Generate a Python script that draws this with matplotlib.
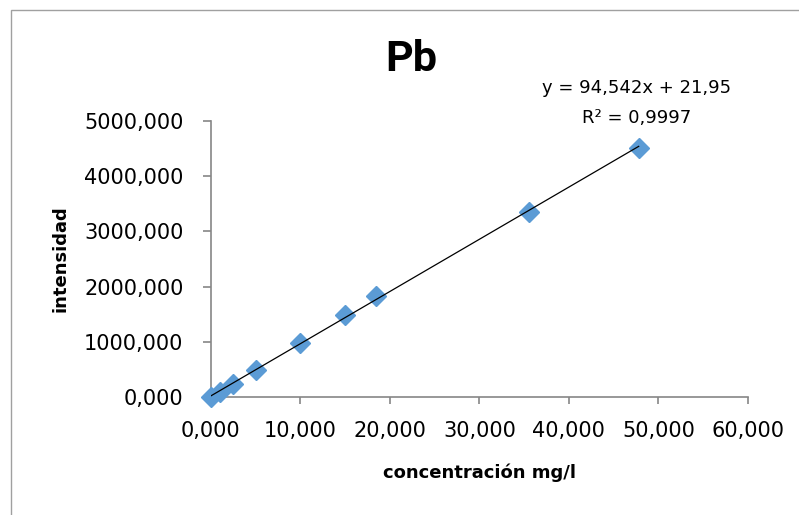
import matplotlib.pyplot as plt
from matplotlib.ticker import FuncFormatter, MultipleLocator
from matplotlib.patches import Rectangle
import numpy as np

# Calibration data for Pb
conc = [0.0, 1.0, 2.5, 5.0, 10.0, 15.0, 18.5, 35.5, 47.8]
intens = [5, 100, 245, 490, 985, 1480, 1835, 3360, 4515]
slope, intercept = 94.542, 21.95
r2 = 0.9997

plt.rcParams['font.family'] = ['DejaVu Sans']

fig = plt.figure(figsize=(7.99, 5.15), dpi=100)
ax = fig.add_axes([0.264, 0.229, 0.672, 0.536])

# chart area border
fig.patches.append(Rectangle((11 / 799, -0.1), 1.1, 1 - 10 / 515 + 0.1,
                             transform=fig.transFigure, fill=False,
                             edgecolor='#a0a0a0', lw=1.0))

ax.plot(conc, intens, 'D', color='#5B9BD5', markersize=10.5, zorder=3, clip_on=False)

xl = np.array([0, max(conc)])
ax.plot(xl, slope * xl + intercept, color='black', lw=0.9, zorder=4)

ax.set_xlim(0, 60)
ax.set_ylim(0, 5000)
ax.xaxis.set_major_locator(MultipleLocator(10))
ax.yaxis.set_major_locator(MultipleLocator(1000))
fmt = FuncFormatter(lambda v, p: f"{v + 0.0:.3f}".replace('.', ',').replace('-', ''))
ax.xaxis.set_major_formatter(fmt)
ax.yaxis.set_major_formatter(fmt)

for s in ['top', 'right']:
    ax.spines[s].set_visible(False)
for s in ['left', 'bottom']:
    ax.spines[s].set_color('#868686')
    ax.spines[s].set_linewidth(1.2)
ax.tick_params(axis='both', direction='out', width=1.2,
               color='#868686', labelsize=15)
ax.tick_params(axis='y', length=5.8, pad=14)
ax.tick_params(axis='x', length=5.0, pad=12)

ax.set_xlabel('concentración mg/l', fontsize=13, fontweight='bold')
ax.set_ylabel('intensidad', fontsize=13, fontweight='bold')
ax.xaxis.set_label_coords(0.5, -0.24)
ax.yaxis.set_label_coords(-0.264, 0.5)

fig.text(0.515, 0.885, 'Pb', ha='center', va='center', fontsize=31,
         fontweight='bold', family='Roboto')
fig.text(0.797, 0.829, f"y = {slope:.3f}x + {intercept:.2f}".replace('.', ','),
         ha='center', va='center', fontsize=13)
fig.text(0.797, 0.771, f"R² = {r2:.4f}".replace('.', ','),
         ha='center', va='center', fontsize=13)

fig.savefig('out.png', dpi=100)
